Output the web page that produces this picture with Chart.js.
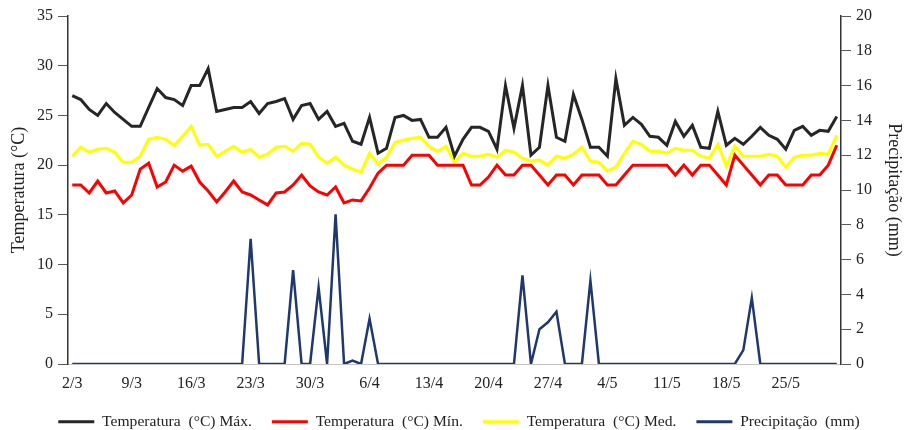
<!DOCTYPE html>
<html lang="pt">
<head>
<meta charset="utf-8">
<title>Temperatura e precipitação</title>
<script src="https://cdn.jsdelivr.net/npm/chart.js@4.4.1/dist/chart.umd.min.js"></script>
<style>
    html, body { margin: 0; padding: 0; background: #fff; }
    #wrap { width: 906px; height: 430px; }
</style>
</head>
<body>
<div id="wrap"><canvas id="grafico" width="906" height="430"></canvas></div>
<script>
// dias de 2/3 a 31/5
const meses = [[3, 2, 31], [4, 1, 30], [5, 1, 31]];
const dias = [];
meses.forEach(([m, ini, fim]) => {
    for (let d = ini; d <= fim; d++) dias.push(d + '/' + m);
});

const ticksDias = ['2/3', '9/3', '16/3', '23/3', '30/3', '6/4', '13/4', '20/4', '27/4', '4/5', '11/5', '18/5', '25/5'];

const tMax = [
    27.0, 26.6, 25.6, 25.0, 26.2, 25.3, 24.6, 23.9, 23.9, 25.8,
    27.7, 26.8, 26.6, 26.0, 28.0, 28.0, 29.7, 25.4, 25.6, 25.8,
    25.8, 26.4, 25.2, 26.2, 26.4, 26.7, 24.6, 26.0, 26.2, 24.6,
    25.4, 23.9, 24.2, 22.4, 22.1, 24.8, 21.2, 21.7, 24.8, 25.0,
    24.5, 24.6, 22.8, 22.8, 23.8, 20.9, 22.6, 23.8, 23.8, 23.4,
    21.6, 28.0, 23.7, 28.0, 21.0, 21.8, 28.0, 22.8, 22.4, 27.1,
    24.6, 21.8, 21.8, 20.9, 28.7, 24.0, 24.8, 24.1, 22.9, 22.8,
    22.0, 24.4, 22.9, 24.0, 21.8, 21.7, 25.4, 22.0, 22.7, 22.1,
    22.9, 23.8, 23.0, 22.6, 21.6, 23.5, 23.9, 23.0, 23.5, 23.4,
    24.9
];

const tMin = [
    18.0, 18.0, 17.2, 18.4, 17.2, 17.4, 16.2, 17.0, 19.6, 20.2,
    17.8, 18.3, 20.0, 19.4, 19.9, 18.3, 17.4, 16.3, 17.3, 18.4,
    17.3, 17.0, 16.5, 16.0, 17.2, 17.3, 18.0, 19.0, 17.9, 17.3,
    17.0, 17.8, 16.2, 16.5, 16.4, 17.7, 19.2, 20.0, 20.0, 20.0,
    21.0, 21.0, 21.0, 20.0, 20.0, 20.0, 20.0, 18.0, 18.0, 18.8,
    20.0, 19.0, 19.0, 20.0, 20.0, 19.0, 18.0, 19.0, 19.0, 18.0,
    19.0, 19.0, 19.0, 18.0, 18.0, 19.0, 20.0, 20.0, 20.0, 20.0,
    20.0, 19.0, 20.0, 19.0, 20.0, 20.0, 19.0, 18.0, 21.0, 20.0,
    19.0, 18.0, 19.0, 19.0, 18.0, 18.0, 18.0, 19.0, 19.0, 20.0,
    22.0
];

const tMed = [
    20.9, 21.8, 21.3, 21.6, 21.7, 21.3, 20.3, 20.3, 20.9, 22.6,
    22.8, 22.6, 22.0, 22.9, 23.9, 22.0, 22.1, 20.9, 21.4, 21.9,
    21.3, 21.6, 20.8, 21.1, 21.8, 21.9, 21.4, 22.2, 22.1, 20.8,
    20.2, 20.8, 20.0, 19.6, 19.3, 21.2, 20.1, 20.8, 22.3, 22.5,
    22.7, 22.8, 21.9, 21.4, 21.9, 20.3, 21.2, 20.9, 20.9, 21.1,
    20.8, 21.5, 21.3, 20.7, 20.4, 20.5, 20.0, 20.9, 20.7, 21.1,
    21.8, 20.4, 20.3, 19.4, 19.8, 21.2, 22.4, 22.1, 21.4, 21.4,
    21.2, 21.7, 21.5, 21.5, 20.9, 20.7, 22.1, 19.9, 21.9, 20.9,
    20.9, 20.9, 21.1, 20.9, 19.8, 20.8, 21.0, 21.0, 21.2, 21.1,
    23.0
];

const precip = [
    0, 0, 0, 0, 0, 0, 0, 0, 0, 0,
    0, 0, 0, 0, 0, 0, 0, 0, 0, 0,
    0, 7.2, 0, 0, 0, 0, 5.4, 0, 0, 4.4,
    0, 8.6, 0, 0.2, 0, 2.6, 0, 0, 0, 0,
    0, 0, 0, 0, 0, 0, 0, 0, 0, 0,
    0, 0, 0, 5.1, 0, 2.0, 2.4, 3.0, 0, 0,
    0, 4.8, 0, 0, 0, 0, 0, 0, 0, 0,
    0, 0, 0, 0, 0, 0, 0, 0, 0, 0.8,
    3.8, 0, 0, 0, 0, 0, 0, 0, 0, 0,
    0
];

const fonte = 'Liberation Serif, Times New Roman, serif';
const corTexto = '#222';
const baseGrafico = 364; // fundo da área do gráfico
const padBaixo = -9.5;   // empurra a legenda para baixo
const padEsq = 12;       // desloca a legenda um pouco para a direita

function serie(label, data, cor, eixo, largura) {
    return {
        label: label,
        data: data,
        borderColor: cor,
        backgroundColor: cor,
        borderWidth: largura,
        pointRadius: 0,
        tension: 0,
        yAxisID: eixo
    };
}

new Chart(document.getElementById('grafico').getContext('2d'), {
    type: 'line',
    data: {
        labels: dias,
        datasets: [
            serie('Temperatura  (°C) Máx.', tMax, '#262626', 'yT', 3),
            serie('Temperatura  (°C) Mín.', tMin, '#ff0000', 'yT', 3),
            serie('Temperatura  (°C) Med.', tMed, '#ffff00', 'yT', 3),
            serie('Precipitação  (mm)', precip, '#1f3870', 'yP', 2.5)
        ]
    },
    options: {
        responsive: false,
        animation: false,
        layout: { padding: { top: 16, left: padEsq, right: 0, bottom: padBaixo } },
        plugins: {
            tooltip: { enabled: false },
            legend: {
                position: 'bottom',
                labels: {
                    color: corTexto,
                    font: { family: fonte, size: 15.6 },
                    boxWidth: 36,
                    boxHeight: 3,
                    padding: 20,
                    generateLabels: (chart) => Chart.defaults.plugins.legend.labels.generateLabels(chart).map(item => {
                        item.fillStyle = item.strokeStyle;
                        item.lineWidth = 0;
                        return item;
                    })
                }
            }
        },
        scales: {
            x: {
                offset: true,
                grid: { display: false, drawTicks: false },
                border: { display: true, color: '#c4c4c4', width: 1 },
                ticks: {
                    autoSkip: false,
                    maxRotation: 0,
                    padding: 10,
                    color: corTexto,
                    font: { family: fonte, size: 16 },
                    callback: (v, i) => ticksDias.includes(dias[i]) ? dias[i] : ''
                },
                afterFit: (scale) => {
                    const leg = scale.chart.legend;
                    scale.height = Math.max(0, 430 - padBaixo - leg.height - baseGrafico);
                }
            },
            yT: {
                position: 'left',
                min: 0,
                max: 35,
                ticks: { stepSize: 5, padding: 5, color: corTexto, font: { family: fonte, size: 16 } },
                grid: { drawOnChartArea: false, drawTicks: true, tickLength: 10, color: '#595959' },
                border: { display: true, color: '#333', width: 1.5 },
                title: {
                    display: true,
                    text: 'Temperatura (°C)',
                    color: corTexto,
                    font: { family: fonte, size: 18 },
                    padding: { top: 8 - padEsq, bottom: 0 }
                },
                afterFit: (scale) => { scale.width = 68 - padEsq; }
            },
            yP: {
                position: 'right',
                min: 0,
                max: 20,
                ticks: { stepSize: 2, padding: 5, color: corTexto, font: { family: fonte, size: 16 } },
                grid: { drawOnChartArea: false, drawTicks: true, tickLength: 10, color: '#595959' },
                border: { display: true, color: '#333', width: 1.5 },
                title: {
                    display: true,
                    text: 'Precipitação (mm)',
                    color: corTexto,
                    font: { family: fonte, size: 18 },
                    padding: { top: 1, bottom: 0 }
                },
                afterFit: (scale) => { scale.width = 65; }
            }
        }
    }
});
</script>
</body>
</html>
